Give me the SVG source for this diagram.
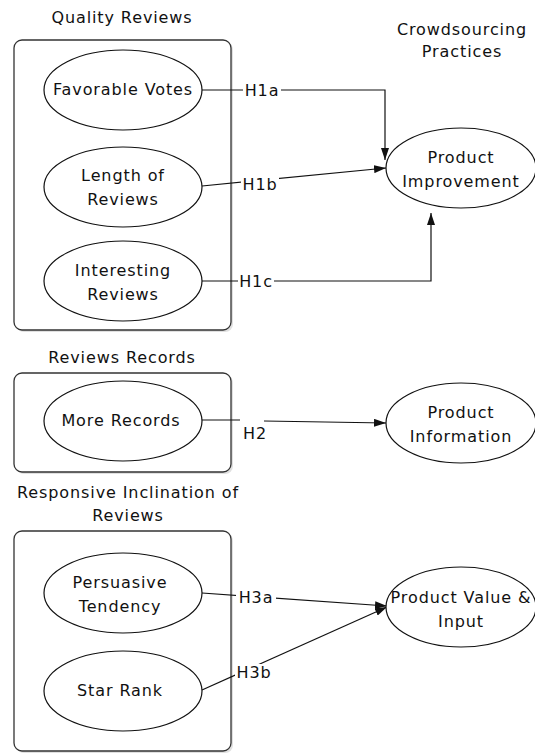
<svg xmlns="http://www.w3.org/2000/svg" width="535" height="754" viewBox="0 0 535 754">
<defs>
<style>
text{font-family:"DejaVu Sans","Liberation Sans",sans-serif;font-size:16px;letter-spacing:0.9px;fill:#111;text-anchor:middle}
.box{fill:#fff;stroke:#333;stroke-width:1.3}
.shadow{fill:#ccc;stroke:none;opacity:0.6}
.node{fill:#fff;stroke:#111;stroke-width:1.2}
.edge{fill:none;stroke:#111;stroke-width:1.2}
.lbl{fill:#fff;stroke:none}
</style>
<marker id="arr" viewBox="0 0 12 8" refX="12" refY="4" markerWidth="12" markerHeight="8" markerUnits="userSpaceOnUse" orient="auto">
<path d="M0,0 L12,4 L0,8 Z" fill="#111"/>
</marker>
</defs>
<rect width="535" height="754" fill="#fff"/>

<g id="group-quality">
<text x="122" y="23">Quality Reviews</text>
<rect class="shadow" x="16" y="42" width="217" height="290" rx="8"/>
<rect class="box" x="14" y="40" width="217" height="290" rx="8"/>
</g>
<g id="group-records">
<text x="122" y="363">Reviews Records</text>
<rect class="shadow" x="16" y="375" width="217" height="99" rx="8"/>
<rect class="box" x="14" y="373" width="217" height="99" rx="8"/>
</g>
<g id="group-inclination">
<text x="128" y="498">Responsive Inclination of</text>
<text x="128" y="521">Reviews</text>
<rect class="shadow" x="16" y="533" width="217" height="220" rx="8"/>
<rect class="box" x="14" y="531" width="217" height="220" rx="8"/>
</g>
<g id="title-crowdsourcing">
<text x="462" y="35">Crowdsourcing</text>
<text x="462" y="57">Practices</text>
</g>

<g id="connectors">
<path class="edge" d="M202,90 H385 V160" marker-end="url(#arr)"/>
<path class="edge" d="M202,186 L386,168" marker-end="url(#arr)"/>
<path class="edge" d="M202,281 H431 V213" marker-end="url(#arr)"/>
<path class="edge" d="M202,420 L240,420"/>
<path class="edge" d="M264,421 L386,423" marker-end="url(#arr)"/>
<path class="edge" d="M202,593 L387,606" marker-end="url(#arr)"/>
<path class="edge" d="M202,690 L387,607" marker-end="url(#arr)"/>
<rect class="lbl" x="243" y="82" width="38" height="16"/>
<text x="262" y="96">H1a</text>
<rect class="lbl" x="241" y="176" width="38" height="16"/>
<text x="260" y="190">H1b</text>
<rect class="lbl" x="238" y="273" width="36" height="16"/>
<text x="256" y="287">H1c</text>
<text x="255" y="439">H2</text>
<rect class="lbl" x="236" y="589" width="40" height="16"/>
<text x="256" y="603">H3a</text>
<rect class="lbl" x="235" y="664" width="38" height="16"/>
<text x="254" y="678">H3b</text>
</g>

<g id="n-favorable">
<ellipse class="node" cx="123" cy="90" rx="79" ry="40"/>
<text x="123" y="95">Favorable Votes</text>
</g>
<g id="n-length">
<ellipse class="node" cx="123" cy="187" rx="79" ry="40"/>
<text x="123" y="181">Length of</text>
<text x="123" y="205">Reviews</text>
</g>
<g id="n-interesting">
<ellipse class="node" cx="123" cy="281" rx="79" ry="40"/>
<text x="123" y="276">Interesting</text>
<text x="123" y="300">Reviews</text>
</g>
<g id="n-more">
<ellipse class="node" cx="123" cy="421" rx="79" ry="40"/>
<text x="121" y="426">More Records</text>
</g>
<g id="n-persuasive">
<ellipse class="node" cx="123" cy="593" rx="79" ry="40"/>
<text x="120" y="588">Persuasive</text>
<text x="120" y="612">Tendency</text>
</g>
<g id="n-star">
<ellipse class="node" cx="123" cy="691" rx="79" ry="40"/>
<text x="120" y="696">Star Rank</text>
</g>
<g id="n-improvement">
<ellipse class="node" cx="461" cy="168" rx="75" ry="40"/>
<text x="461" y="163">Product</text>
<text x="461" y="187">Improvement</text>
</g>
<g id="n-information">
<ellipse class="node" cx="461" cy="423" rx="75" ry="40"/>
<text x="461" y="418">Product</text>
<text x="461" y="442">Information</text>
</g>
<g id="n-value">
<ellipse class="node" cx="461" cy="607" rx="75" ry="40"/>
<text x="461" y="603">Product Value &amp;</text>
<text x="461" y="627">Input</text>
</g>
</svg>
